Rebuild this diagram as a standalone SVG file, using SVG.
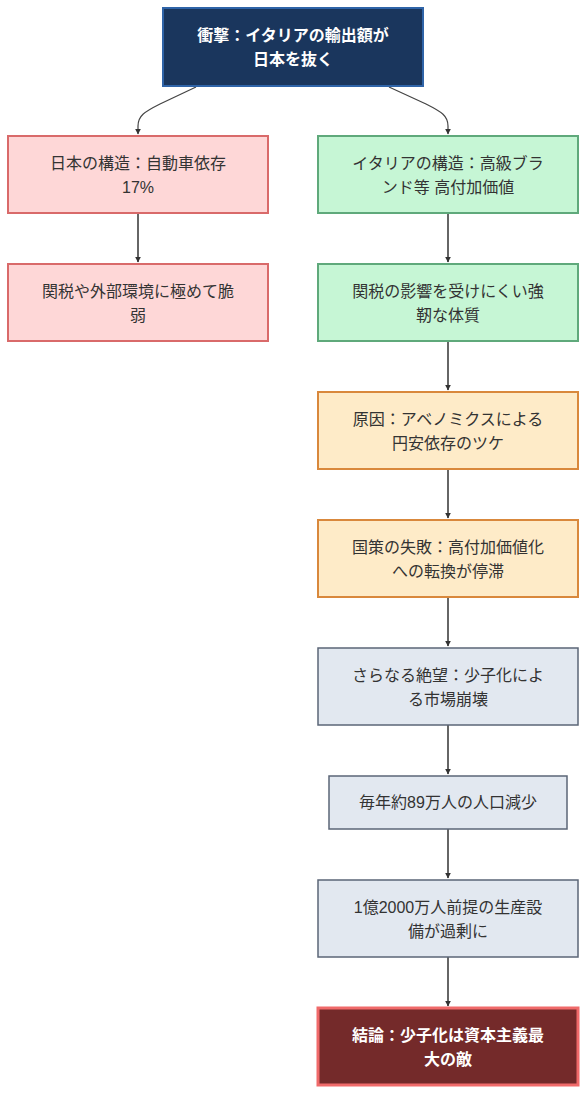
<svg xmlns="http://www.w3.org/2000/svg" width="586" height="1094" viewBox="0 0 586 1094">
<style>
text{font-family:"Liberation Sans","Noto Sans CJK JP",sans-serif;font-size:16px;text-anchor:middle;fill:#333}
.b text{fill:#fff;font-weight:bold}
.red rect{fill:#fed7d7;stroke:#d96a6a;stroke-width:2}
.grn rect{fill:#c6f6d5;stroke:#5fa97b;stroke-width:2}
.org rect{fill:#feebc8;stroke:#d9883c;stroke-width:2}
.gry rect{fill:#e2e8f0;stroke:#5b6677;stroke-width:1.5}
.edge{fill:none;stroke:#666;stroke-width:2}
.curve{fill:none;stroke:#444;stroke-width:1.2}
</style>
<defs>
<marker id="ah" viewBox="0 0 10 10" refX="9" refY="5" markerWidth="6" markerHeight="6" orient="auto" markerUnits="userSpaceOnUse">
<path d="M0,0 L10,5 L0,10 z" fill="#333"/>
</marker>
</defs>
<rect width="586" height="1094" fill="#fff"/>
<g id="connectors">
<path class="curve" d="M196,87 L160,104 C144,112 138,116 138,126 L138,134" marker-end="url(#ah)"/>
<path class="curve" d="M389,87 L426,104 C442,112 448,116 448,126 L448,134" marker-end="url(#ah)"/>
<path class="edge" d="M138,213 L138,262" marker-end="url(#ah)"/>
<path class="edge" d="M448,213 L448,262" marker-end="url(#ah)"/>
<path class="edge" d="M448,341 L448,390" marker-end="url(#ah)"/>
<path class="edge" d="M448,469 L448,518" marker-end="url(#ah)"/>
<path class="edge" d="M448,597 L448,646" marker-end="url(#ah)"/>
<path class="edge" d="M448,725 L448,774" marker-end="url(#ah)"/>
<path class="edge" d="M448,829 L448,878" marker-end="url(#ah)"/>
<path class="edge" d="M448,957 L448,1006" marker-end="url(#ah)"/>
</g>
<g id="shock" class="b">
<rect x="163" y="8" width="260" height="78" fill="#1a365d" stroke="#2f64a8" stroke-width="2"/>
<text x="293" y="41">衝撃：イタリアの輸出額が</text>
<text x="293" y="65">日本を抜く</text>
</g>
<g id="jp1" class="red">
<rect x="8" y="136" width="260" height="77"/>
<text x="138" y="169">日本の構造：自動車依存</text>
<text x="138" y="193">17%</text>
</g>
<g id="jp2" class="red">
<rect x="8" y="264" width="260" height="77"/>
<text x="138" y="297">関税や外部環境に極めて脆</text>
<text x="138" y="321">弱</text>
</g>
<g id="it1" class="grn">
<rect x="318" y="136" width="260" height="77"/>
<text x="448" y="169">イタリアの構造：高級ブラ</text>
<text x="448" y="193">ンド等 高付加価値</text>
</g>
<g id="it2" class="grn">
<rect x="318" y="264" width="260" height="77"/>
<text x="448" y="297">関税の影響を受けにくい強</text>
<text x="448" y="321">靭な体質</text>
</g>
<g id="cause" class="org">
<rect x="318" y="392" width="260" height="77"/>
<text x="448" y="425">原因：アベノミクスによる</text>
<text x="448" y="449">円安依存のツケ</text>
</g>
<g id="policy" class="org">
<rect x="318" y="520" width="260" height="77"/>
<text x="448" y="553">国策の失敗：高付加価値化</text>
<text x="448" y="577">への転換が停滞</text>
</g>
<g id="despair" class="gry">
<rect x="318" y="648" width="260" height="77"/>
<text x="448" y="681">さらなる絶望：少子化によ</text>
<text x="448" y="705">る市場崩壊</text>
</g>
<g id="pop" class="gry">
<rect x="329" y="776" width="238" height="53"/>
<text x="448" y="808">毎年約89万人の人口減少</text>
</g>
<g id="excess" class="gry">
<rect x="318" y="880" width="260" height="77"/>
<text x="448" y="913">1億2000万人前提の生産設</text>
<text x="448" y="937">備が過剰に</text>
</g>
<g id="conclusion" class="b">
<rect x="318" y="1008" width="260" height="77" fill="#742a2a" stroke="#f06a6a" stroke-width="3"/>
<text x="448" y="1041">結論：少子化は資本主義最</text>
<text x="448" y="1065">大の敵</text>
</g>
</svg>
